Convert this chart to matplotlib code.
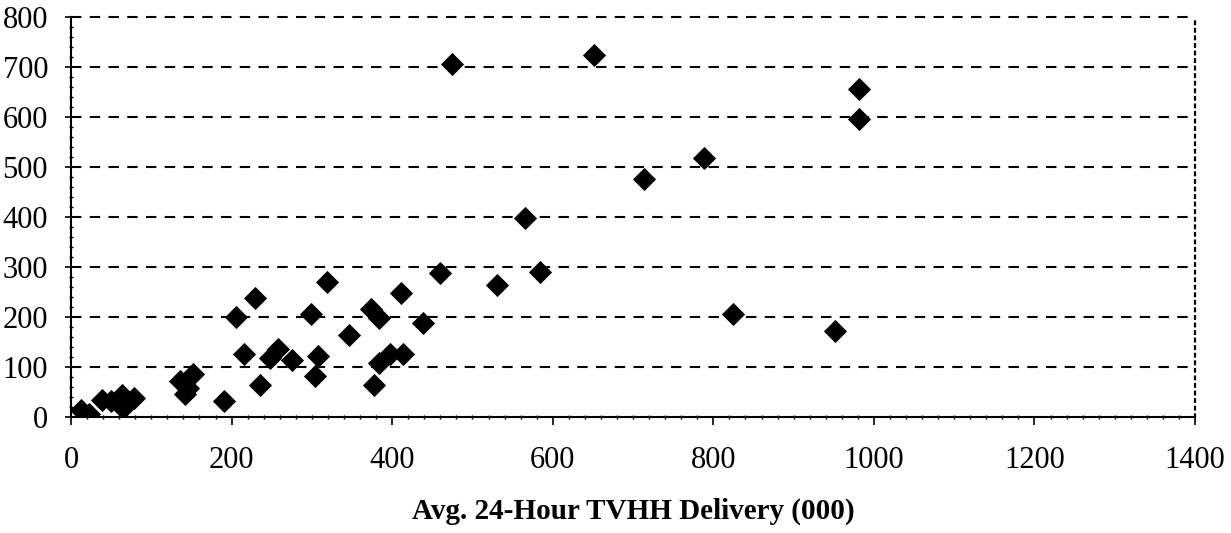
import matplotlib
matplotlib.use("Agg")
import matplotlib.pyplot as plt
from matplotlib.ticker import MultipleLocator

# delivery (000) vs. second measure
delivery = [12, 22, 38, 50, 63, 65, 70, 78,
            136, 142, 146, 152,
            191, 206, 215, 229, 235, 248, 258, 275,
            299, 304, 307, 319, 346, 373, 377, 383, 383, 397, 411, 414, 438, 460,
            474, 530, 565, 584, 651, 714, 789, 824, 951, 981, 981]
value = [15, 7, 35, 33, 45, 18, 32, 38,
         72, 46, 58, 87,
         32, 201, 127, 238, 64, 118, 137, 114,
         207, 82, 123, 271, 164, 216, 64, 198, 109, 127, 248, 126, 188, 288,
         707, 265, 398, 290, 724, 476, 519, 207, 172, 656, 596]

x_ticks = [0, 200, 400, 600, 800, 1000, 1200, 1400]
y_ticks = [0, 100, 200, 300, 400, 500, 600, 700, 800]
x_label = "Avg. 24-Hour TVHH Delivery (000)"

plt.rcParams["font.family"] = ["Liberation Serif", "DejaVu Serif"]

fig = plt.figure(figsize=(12.31, 5.33), dpi=100)
ax = fig.add_axes([0.0577, 0.2176, 0.9131, 0.7504])

# horizontal dashed grid (the 800 line doubles as the top frame)
for yv in y_ticks[1:]:
    ax.axhline(yv, color="black", lw=1.5, linestyle=(0, (5.0, 4.0)),
               zorder=1, clip_on=False)

ax.plot(delivery, value, linestyle="none", marker="D", markersize=10.8,
        color="black", markeredgewidth=0.6, zorder=3)

ax.set_xlim(0, 1400)
ax.set_ylim(0, 800)
ax.set_xticks(x_ticks)
ax.set_yticks(y_ticks)
ax.xaxis.set_minor_locator(MultipleLocator(20))
ax.yaxis.set_minor_locator(MultipleLocator(20))

ax.spines["top"].set_visible(False)
ax.spines["right"].set_linestyle((0, (1.2, 2.2)))
ax.spines["right"].set_linewidth(1.6)
ax.spines["left"].set_linewidth(1.5)
ax.spines["bottom"].set_linewidth(1.5)

ax.tick_params(axis="x", which="major", direction="out", length=6, width=1.2,
               pad=15, labelsize=22)
ax.tick_params(axis="x", which="minor", direction="inout", length=3, width=1.0)
ax.tick_params(axis="y", which="major", direction="inout", length=9, width=1.2,
               pad=12, labelsize=22)
ax.tick_params(axis="y", which="minor", direction="inout", length=3, width=1.0)

ax.set_xlabel(x_label, fontsize=21, fontweight="bold", labelpad=16)

fig.savefig("out.png", dpi=100, facecolor="white")
